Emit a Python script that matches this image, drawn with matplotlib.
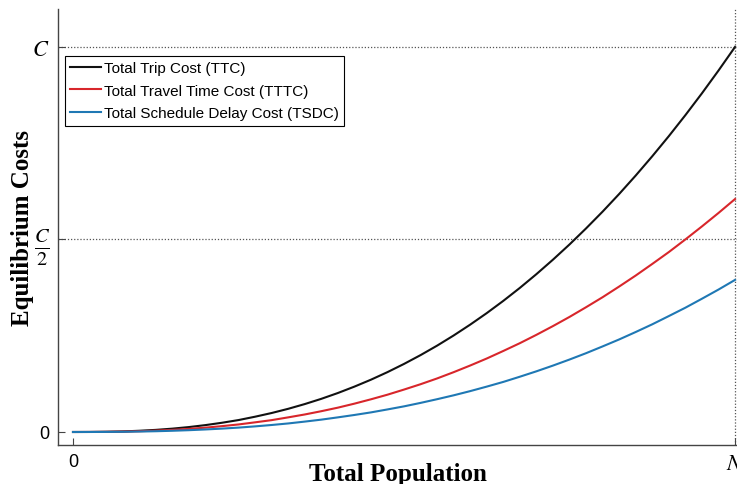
import matplotlib
matplotlib.use("Agg")
import matplotlib.pyplot as plt

# population share (0..N) and costs as a share of C
pop = [0.0, 0.025, 0.05, 0.075, 0.10, 0.125, 0.15, 0.175, 0.20, 0.225, 0.25,
       0.275, 0.30, 0.325, 0.35, 0.375, 0.40, 0.425, 0.45, 0.475, 0.50,
       0.525, 0.55, 0.575, 0.60, 0.625, 0.65, 0.675, 0.70, 0.725, 0.75,
       0.775, 0.80, 0.825, 0.85, 0.875, 0.90, 0.925, 0.95, 0.975, 1.0]
ttc = [0.0, 0.0001, 0.0006, 0.0015, 0.0032, 0.0055, 0.0087, 0.0128, 0.0179, 0.024, 0.031,
       0.0397, 0.0493, 0.0602, 0.0725, 0.0861, 0.1012, 0.1178, 0.1358, 0.1555, 0.1768,
       0.1997, 0.2243, 0.2507, 0.2789, 0.3088, 0.3406, 0.3743, 0.4100, 0.4476, 0.4871,
       0.5288, 0.5724, 0.6182, 0.6661, 0.7162, 0.7684, 0.8229, 0.8796, 0.9387, 1.0]
tttc = [0.0, 0.0001, 0.0004, 0.0010, 0.0020, 0.0035, 0.0055, 0.0081, 0.0113, 0.0152, 0.0196,
        0.0251, 0.0308, 0.0380, 0.0455, 0.0540, 0.0632, 0.0736, 0.0849, 0.0969, 0.1102,
        0.1241, 0.1391, 0.1554, 0.1727, 0.1909, 0.2105, 0.2307, 0.2524, 0.2751, 0.2989,
        0.3241, 0.3501, 0.3778, 0.4064, 0.4365, 0.4673, 0.5001, 0.5339, 0.5688, 0.605]
tsdc = [0.0, 0.00005, 0.0002, 0.0005, 0.0012, 0.0020, 0.0032, 0.0047, 0.0066, 0.0088, 0.0114,
        0.0146, 0.0182, 0.0222, 0.0270, 0.0321, 0.0380, 0.0442, 0.0509, 0.0586, 0.0666,
        0.0756, 0.0852, 0.0953, 0.1062, 0.1179, 0.1301, 0.1436, 0.1576, 0.1725, 0.1882,
        0.2047, 0.2223, 0.2404, 0.2597, 0.2797, 0.3011, 0.3228, 0.3461, 0.3699, 0.395]

labels = ["Total Trip Cost (TTC)", "Total Travel Time Cost (TTTC)",
          "Total Schedule Delay Cost (TSDC)"]
colors = ["#111111", "#d8262b", "#1f78b4"]

yticks = [0, 0.5, 1.0]
yticklabels = ["0", r"$\frac{C}{2}$", r"$C$"]
xticks = [0, 1.0]
xticklabels = ["0", r"$N$"]

plt.rcParams["mathtext.fontset"] = "stix"

fig = plt.figure(figsize=(7.37, 4.85), dpi=100)
ax = fig.add_axes([58 / 737, 39 / 485, 679 / 737, 436 / 485])

for ys, lab, c in zip([ttc, tttc, tsdc], labels, colors):
    ax.plot(pop, ys, color=c, lw=1.5, label=lab)

# dotted reference lines at C, C/2 and N
for yv in [0.5, 1.0]:
    ax.axhline(yv, color="#555555", lw=0.9, ls=(0, (1, 1.5)), zorder=0)
ax.axvline(1.0, color="#555555", lw=0.9, ls=(0, (1, 1.5)), zorder=0)

ax.set_xlim(-15 / 662, 664 / 662)
ax.set_ylim(-13 / 385, 423 / 385)

ax.spines["top"].set_visible(False)
ax.spines["right"].set_visible(False)
for s in ["left", "bottom"]:
    ax.spines[s].set_color("#444444")
    ax.spines[s].set_linewidth(1.0)

ax.set_yticks(yticks)
ax.set_yticklabels(yticklabels)
ax.set_xticks(xticks)
ax.set_xticklabels(xticklabels)
ax.tick_params(direction="in", length=5, width=0.8, color="#444444", pad=6)
for t in ax.get_yticklabels() + ax.get_xticklabels():
    t.set_fontsize(13)
ax.get_yticklabels()[0].set_fontfamily("Liberation Sans")
ax.get_xticklabels()[0].set_fontfamily("Liberation Sans")
ax.get_yticklabels()[1].set_fontsize(21)
ax.get_yticklabels()[2].set_fontsize(16)
ax.get_xticklabels()[1].set_fontsize(16)

ax.set_xlabel("Total Population", fontfamily="Liberation Serif",
              fontweight="bold", fontsize=18)
ax.set_ylabel("Equilibrium Costs", fontfamily="Liberation Serif",
              fontweight="bold", fontsize=18)
ax.xaxis.set_label_coords(0.5, -0.04)
ax.xaxis.label.set_va("top")
ax.yaxis.set_label_coords(-0.036, 0.5)

leg = ax.legend(loc="upper left", bbox_to_anchor=(65 / 737, 1 - 57 / 485),
                bbox_transform=fig.transFigure, borderaxespad=0,
                prop={"family": "Liberation Sans", "size": 11},
                fancybox=False, edgecolor="black", framealpha=1,
                handlelength=2.0, handletextpad=0.2, labelspacing=0.55,
                borderpad=0.35)
leg.get_frame().set_linewidth(0.8)

fig.savefig("out.png", dpi=100)
